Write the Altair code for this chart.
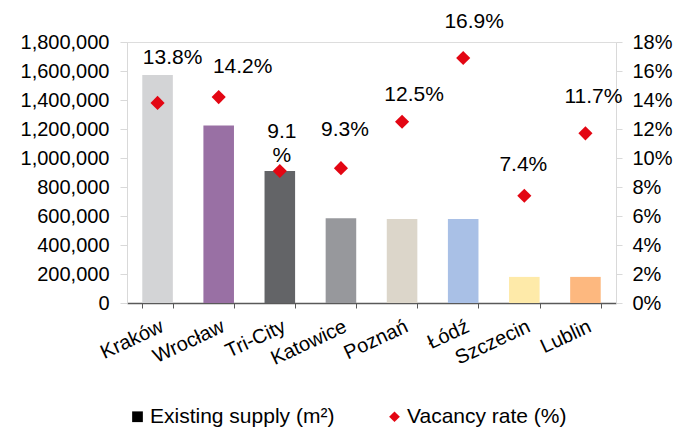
import altair as alt
import pandas as pd

# ---- data ----
cities = ["Kraków", "Wrocław", "Tri-City", "Katowice", "Poznań", "Łódź", "Szczecin", "Lublin"]
supply = [1572000, 1225000, 910000, 584000, 579000, 579000, 180000, 180000]
vacancy = [13.8, 14.2, 9.1, 9.3, 12.5, 16.9, 7.4, 11.7]
rate_labels = ["13.8%", "14.2%", "9.1\n%", "9.3%", "12.5%", "16.9%", "7.4%", "11.7%"]
series = ["Existing supply (m²)", "Vacancy rate (%)"]
supply_ticks = [0, 200000, 400000, 600000, 800000, 1000000, 1200000, 1400000, 1600000, 1800000]
rate_ticks = [0, 2, 4, 6, 8, 10, 12, 14, 16, 18]

# ---- styling ----
palette = ["#d3d4d6", "#9970a4", "#636467", "#97989c", "#dcd6ca", "#a9c0e6", "#feeaa9", "#fdb87f"]
series_colors = ["#000000", "#e30613"]
label_dx = [15, 24, 2, 4, 12, 11, -1, 8]
label_dy = [-45, -30, -39, -38, -27, -36, -31, -36]
FONT = "Liberation Sans"

df = pd.DataFrame({
    "city": cities,
    "supply": supply,
    "rate": vacancy,
    "label": rate_labels,
    "series": [series[1]] * len(cities),
})

x_enc = alt.X(
    "city:N",
    sort=cities,
    scale=alt.Scale(domain=cities, paddingInner=0.5, paddingOuter=0.25),
    title=None,
    axis=alt.Axis(
        orient="bottom", tickBand="extent", domainColor="#595959", domainWidth=1.5,
        tickColor="#595959", tickSize=5, tickWidth=1, labelAngle=335, labelAlign="right",
        labelBaseline="top", labelPadding=8, labelFontSize=20, labelFont=FONT,
        labelColor="#000000", grid=False,
    ),
)

y_supply = alt.Y(
    "supply:Q",
    scale=alt.Scale(domain=[0, 1800000], nice=False),
    title=None,
    axis=alt.Axis(
        orient="left", values=supply_ticks, labelExpr="format(datum.value, ',.0f')", grid=False,
        domainColor="#d9d9d9", tickColor="#d9d9d9", tickSize=7, labelPadding=11,
        labelFontSize=20, labelFont=FONT, labelColor="#000000",
    ),
)

y_rate = alt.Y(
    "rate:Q",
    scale=alt.Scale(domain=[0, 18], nice=False),
    title=None,
    axis=alt.Axis(
        orient="right", values=rate_ticks, labelExpr="datum.value + '%'", grid=False,
        domainColor="#d9d9d9", tickColor="#d9d9d9", tickSize=6, labelPadding=10,
        labelFontSize=20, labelFont=FONT, labelColor="#000000",
    ),
)

bars = alt.Chart(df).mark_bar().encode(
    x=x_enc,
    y=y_supply,
    color=alt.Color("city:N", scale=alt.Scale(domain=cities, range=palette), legend=None),
)

legend = alt.Legend(
    title=None, orient="none", legendX=0, legendY=364, direction="horizontal",
    labelFontSize=21, labelFont=FONT, labelColor="#000000", labelLimit=400,
    symbolSize=115, symbolStrokeWidth=0, columnPadding=49, labelOffset=2, padding=0,
    symbolType=alt.ExprRef(expr="datum.value === 'Vacancy rate (%)' ? 'diamond' : 'square'"),
)

points = alt.Chart(df).mark_point(shape="diamond", filled=True, size=200, opacity=1).encode(
    x=x_enc,
    y=y_rate,
    color=alt.Color("series:N", scale=alt.Scale(domain=series, range=series_colors), legend=legend),
)

texts = []
for i, c in enumerate(cities):
    texts.append(
        alt.Chart(df).transform_filter(alt.datum.city == c).mark_text(
            dx=label_dx[i], dy=label_dy[i], fontSize=21, font=FONT, color="#000000",
            align="center", baseline="middle", lineBreak="\n", lineHeight=24,
        ).encode(x=x_enc, y=y_rate, text="label:N")
    )

right = alt.layer(points, *texts)

chart = alt.layer(bars, right).resolve_scale(
    y="independent", color="independent"
).properties(
    width=489, height=261,
    autosize=alt.AutoSizeParams(type="none"),
    padding={"left": 119, "top": 34, "right": 65, "bottom": 128},
).configure_view(stroke=None).configure(background="white")

chart.save("out.html", embed_options={"renderer": "svg", "actions": False})
